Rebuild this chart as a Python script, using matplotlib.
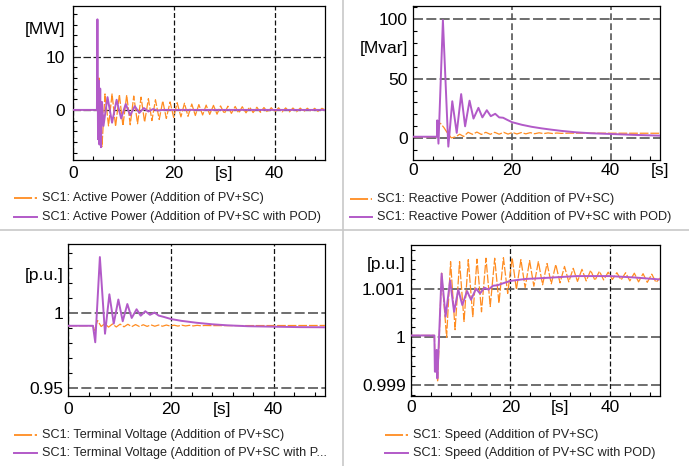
import matplotlib
matplotlib.use('Agg')
import matplotlib.pyplot as plt
from matplotlib.lines import Line2D
from matplotlib.ticker import MultipleLocator

plt.rcParams['font.family'] = ['Liberation Sans', 'DejaVu Sans']

W, H = 689, 466
ORANGE = '#ff8c21'
PURPLE = '#b25ac8'

# ---- data (time in s) ----
# active power [MW]
p_t_or = [0, 4.85, 5.0, 5.2, 5.45, 5.8, 6.4, 7.1, 7.8, 8.5, 9.25, 9.95, 10.7, 11.4, 12.1,
          12.85, 13.55, 14.25, 15.0, 15.7, 16.4, 17.15, 17.85, 18.55, 19.3, 20.0, 20.7,
          21.45, 22.15, 22.85, 23.6, 24.3, 25.0, 25.75, 26.45, 27.15, 27.9, 28.6, 29.3,
          30.05, 30.75, 31.45, 32.2, 32.9, 33.6, 34.35, 35.05, 35.75, 36.5, 37.2, 37.9,
          38.65, 39.35, 40.05, 40.8, 41.5, 42.2, 42.95, 43.65, 44.35, 45.1, 45.8, 46.5,
          47.25, 47.95, 48.65, 49.4, 50.0]
p_v_or = [0, 0, 2, 6.0, -2, -6.9, 3.0, -3.0, 3.0, -3.1, 2.9, -3.0, 2.8, -2.8, 2.6,
          -2.6, 2.4, -2.3, 2.1, -2.0, 1.9, -1.8, 1.7, -1.6, 1.5, -1.4, 1.35,
          -1.3, 1.25, -1.2, 1.1, -1.05, 1.0, -0.95, 0.9, -0.85, 0.85, -0.8, 0.75,
          -0.7, 0.7, -0.65, 0.65, -0.6, 0.6, -0.55, 0.55, -0.5, 0.5, -0.45, 0.45,
          -0.45, 0.42, -0.4, 0.4, -0.38, 0.38, -0.36, 0.36, -0.34, 0.34, -0.32, 0.32,
          -0.3, 0.3, -0.3, 0.3, 0]
p_t_pod = [0, 4.8, 4.9, 5.02, 5.15, 5.3, 5.45, 5.6, 5.8, 6.1, 6.9, 7.8, 8.7, 9.6, 10.5,
           11.4, 12.3, 13.2, 14.1, 15.0, 15.9, 16.8, 18, 50]
p_v_pod = [0, 0, 17, -5.5, 5.5, -6.5, 4.0, -7.0, 1.5, -3.0, 2.4, -2.4, 1.9, -1.6, 1.1,
           -1.0, 0.7, -0.55, 0.35, -0.3, 0.15, -0.1, 0, 0]

# reactive power [Mvar]
q_t_or = [0, 4.8, 4.9, 5.5, 6.2, 6.9, 7.7, 8.6, 9.4, 10.2, 11.1, 12.0, 12.9, 13.8, 14.7,
          15.6, 16.5, 17.4, 18.3, 19.2, 20.1, 21.0, 21.9, 22.8, 23.7, 24.6, 25.5, 26.4,
          27.3, 28.2, 29.1, 30.0, 31.5, 50]
q_v_or = [1.3, 1.3, 12.0, 12.5, 9.0, 4.5, 0.3, 1.2, 3.4, 1.5, 5.0, 3.3, 5.2, 3.2, 5.0,
          3.3, 5.0, 3.4, 5.0, 3.5, 4.9, 3.6, 4.8, 3.7, 4.7, 3.8, 4.6, 3.9,
          4.5, 4.0, 4.4, 4.1, 4.3, 4.2]
q_t_pod = [0, 4.8, 4.85, 5.1, 6.0, 7.1, 7.9, 8.8, 9.7, 10.5, 11.4, 12.2, 13.2, 14.0, 14.9,
           15.7, 16.6, 17.4, 18.2, 19.0, 20, 22, 24, 26, 28, 30, 33, 36, 40, 45, 50]
q_v_pod = [1.3, 1.3, 15, -4.5, 99, -7, 31, 4.5, 37, 10, 31.5, 16.5, 25.5, 17.5, 23.5,
           18.5, 20.5, 17.5, 17.2, 15.5, 13.5, 11.3, 9.6, 8.3, 7.2, 6.2, 5.0, 4.2, 3.6, 2.8, 2.2]

# terminal voltage [p.u.]
u_t_or = [0, 4.8, 5.1, 5.7, 6.4, 7.1, 7.85, 8.6, 9.35, 10.1, 10.85, 11.6, 12.35, 13.1,
          13.85, 14.6, 15.35, 16.1, 16.85, 17.6, 18.35, 19.1, 19.85, 20.6, 21.35, 22.1,
          22.85, 23.6, 24.35, 25.1, 25.85, 26.6, 28, 50]
u_v_or = [0.9915, 0.9915, 0.9885, 0.9950, 0.9910, 0.9929, 0.9906, 0.9927, 0.9907, 0.9926,
          0.9908, 0.9925, 0.9909, 0.9923, 0.9910, 0.9922, 0.9911, 0.9921, 0.9912, 0.9920,
          0.9912, 0.9920, 0.9913, 0.9919, 0.9913, 0.9919, 0.9914, 0.9918, 0.9914, 0.9918,
          0.9915, 0.9917, 0.9916, 0.9917]
u_t_pod = [0, 4.8, 5.25, 6.15, 7.15, 8.0, 8.85, 9.75, 10.6, 11.5, 12.35, 13.3, 14.1, 15.0,
           15.9, 16.8, 17.6, 18.5, 20, 22, 25, 28, 31, 35, 40, 45, 50]
u_v_pod = [0.9915, 0.9915, 0.9805, 1.0373, 0.9862, 1.0125, 0.9929, 1.0090, 0.9945, 1.0060,
           0.9967, 1.0025, 0.9982, 1.0012, 0.9988, 1.0003, 0.9983, 0.9975, 0.9960, 0.9948,
           0.9935, 0.9925, 0.9918, 0.9912, 0.9909, 0.9906, 0.9905]

# speed [p.u.]
w_t_or = [0, 4.75, 4.9, 5.2, 5.4, 6.2, 7.2, 8.0, 8.9, 9.8, 10.7, 11.55, 12.45, 13.3, 14.2,
          15.1, 15.95, 16.85, 17.7, 18.6, 19.45, 20.35, 21.2, 22.1, 22.95, 23.85, 24.7,
          25.6, 26.45, 27.35, 28.2, 29.1, 29.95, 30.85, 31.7, 32.6, 33.45, 34.35, 35.2,
          36.1, 36.95, 37.85, 38.7, 39.6, 40.45, 41.35, 42.2, 43.1, 43.95, 44.85, 45.7,
          46.6, 47.45, 48.35, 49.2, 50.0]
w_v_or = [1.00003, 1.00003, 0.99935, 0.99960, 0.99907, 1.00132, 0.99999, 1.00156, 1.00015,
          1.00156, 1.00032, 1.00160, 1.00042, 1.00161, 1.00052, 1.00163, 1.00063, 1.00163,
          1.00070, 1.00164, 1.00090, 1.00164, 1.00098, 1.00160, 1.00102, 1.00158, 1.00105,
          1.00156, 1.00108, 1.00152, 1.00110, 1.00150, 1.00112, 1.00146, 1.00114, 1.00142,
          1.00115, 1.00140, 1.00116, 1.00138, 1.00117, 1.00136, 1.00118, 1.00134, 1.00119,
          1.00133, 1.00118, 1.00133, 1.00116, 1.00132, 1.00114, 1.00131, 1.00113, 1.00130,
          1.00113, 1.00122]
w_t_pod = [0, 4.75, 4.85, 5.1, 5.2, 5.35, 6.2, 7.0, 7.9, 8.7, 9.55, 10.35, 11.3, 12.1, 13.1,
           13.9, 14.8, 15.6, 16.5, 17.4, 18.5, 20, 23, 26.7, 30, 33.3, 40, 45, 50]
w_v_pod = [1.00003, 1.00003, 0.99928, 0.99928, 0.99973, 0.99914, 1.00131, 1.00042, 1.00117,
           1.00052, 1.00098, 1.00066, 1.00095, 1.00077, 1.00100, 1.00090, 1.00102, 1.00098,
           1.00106, 1.00107, 1.00111, 1.00116, 1.00120, 1.00122, 1.00124, 1.00126, 1.00126,
           1.00123, 1.00119]

x_ticks = [0, 20, 40]

panels = [
    dict(rect=(72.7, 6, 325, 160), t=(p_t_or, p_t_pod), v=(p_v_or, p_v_pod),
         ylim=(-9.4, 19.5), yticks=[0, 10], ylabels=['0', '10'], yminor=2,
         unit='[MW]', unit_y=15, s_x=30, ypad=5.5, xpad=4.5,
         hgrid=('#222222', 0.9), vgrid=('#111111', 0.9),
         name='Active Power', legend=(14, 37, 41.7, 198, 217), cut=False),
    dict(rect=(413.3, 6, 660, 160), t=(q_t_or, q_t_pod), v=(q_v_or, q_v_pod),
         ylim=(-18.2, 110.8), yticks=[0, 50, 100], ylabels=['0', '50', '100'], yminor=10,
         unit='[Mvar]', unit_y=75, s_x=50, ypad=3.8, xpad=2.0,
         hgrid=('#555555', 1.2), vgrid=('#555555', 1.2),
         name='Reactive Power', legend=(350, 371.7, 376.7, 199, 217), cut=False),
    dict(rect=(68.3, 244, 325, 396.3), t=(u_t_or, u_t_pod), v=(u_v_or, u_v_pod),
         ylim=(0.9445, 1.046), yticks=[0.95, 1], ylabels=['0.95', '1'], yminor=0.01,
         unit='[p.u.]', unit_y=1.025, s_x=30, ypad=3.6, xpad=4.0,
         hgrid=('#555555', 1.2), vgrid=('#111111', 0.9),
         name='Terminal Voltage', legend=(14, 37, 41.7, 434.7, 453), cut=True),
    dict(rect=(410.7, 244.7, 660, 396.3), t=(w_t_or, w_t_pod), v=(w_v_or, w_v_pod),
         ylim=(0.99877, 1.00191), yticks=[0.999, 1, 1.001], ylabels=['0.999', '1', '1.001'],
         yminor=0.0002, unit='[p.u.]', unit_y=1.0015, s_x=30, ypad=3.6, xpad=2.5,
         hgrid=('#555555', 1.2), vgrid=('#111111', 0.9),
         name='Speed', legend=(385, 408.3, 413.3, 434.7, 453), cut=False),
]

fig = plt.figure(figsize=(W / 100, H / 100), dpi=100)

for p in panels:
    l, t, r, b = p['rect']
    ax = fig.add_axes([l / W, 1 - b / H, (r - l) / W, (b - t) / H])
    (t_or, t_pod), (v_or, v_pod) = p['t'], p['v']
    ax.plot(t_or, v_or, color=ORANGE, lw=0.9, linestyle=(0, (7, 1.5)), zorder=3)
    ax.plot(t_pod, v_pod, color=PURPLE, lw=1.4, zorder=4)
    ax.set_xlim(0, 50)
    ax.set_ylim(*p['ylim'])
    ax.set_xticks(x_ticks)
    ax.set_yticks(p['yticks'])
    ax.set_yticklabels(p['ylabels'])
    ax.xaxis.set_minor_locator(MultipleLocator(4))
    ax.yaxis.set_minor_locator(MultipleLocator(p['yminor']))
    ax.tick_params(which='both', direction='in', labelsize=12.5, width=0.8)
    ax.tick_params(which='major', length=0)
    ax.tick_params(which='minor', length=3)
    ax.tick_params(axis='y', pad=p['ypad'])
    ax.tick_params(axis='x', pad=p['xpad'])
    hc, hw = p['hgrid']
    vc, vw = p['vgrid']
    ax.yaxis.grid(True, which='major', color=hc, lw=hw, linestyle=(0, (6, 2)), zorder=1)
    ax.xaxis.grid(True, which='major', color=vc, lw=vw, linestyle=(0, (4, 2)), zorder=1)
    ax.set_axisbelow(True)
    for s in ax.spines.values():
        s.set_linewidth(0.9)
        s.set_color('black')
    ax.annotate(p['unit'], xy=(0, p['unit_y']), xycoords=('axes fraction', 'data'),
                xytext=(-p['ypad'], 0), textcoords='offset points',
                ha='right', va='center', fontsize=12.5)
    ax.annotate('[s]', xy=(p['s_x'], 0), xycoords=('data', 'axes fraction'),
                xytext=(0, -p['xpad']), textcoords='offset points',
                ha='center', va='top', fontsize=12.5)

    x0, x1, xt, y1, y2 = p['legend']
    lab1 = f"SC1: {p['name']} (Addition of PV+SC)"
    lab2 = f"SC1: {p['name']} (Addition of PV+SC with POD)"
    if p['cut']:
        lab2 = f"SC1: {p['name']} (Addition of PV+SC with P..."
    fig.add_artist(Line2D([x0 / W, x1 / W], [1 - y1 / H, 1 - y1 / H], color=ORANGE,
                          lw=1.3, linestyle=(0, (10, 1.5, 2, 1.5))))
    fig.add_artist(Line2D([x0 / W, x1 / W], [1 - y2 / H, 1 - y2 / H], color=PURPLE, lw=1.4))
    fig.text(xt / W, 1 - y1 / H, lab1, fontsize=9.1, va='center', ha='left', color='#222222')
    fig.text(xt / W, 1 - y2 / H, lab2, fontsize=9.1, va='center', ha='left', color='#222222')

# quadrant separators
fig.add_artist(Line2D([343 / W, 343 / W], [0, 1], color='#c8c8c8', lw=1.2))
fig.add_artist(Line2D([0, 1], [1 - 230 / H, 1 - 230 / H], color='#c8c8c8', lw=1.2))

fig.savefig('out.png', dpi=100)
